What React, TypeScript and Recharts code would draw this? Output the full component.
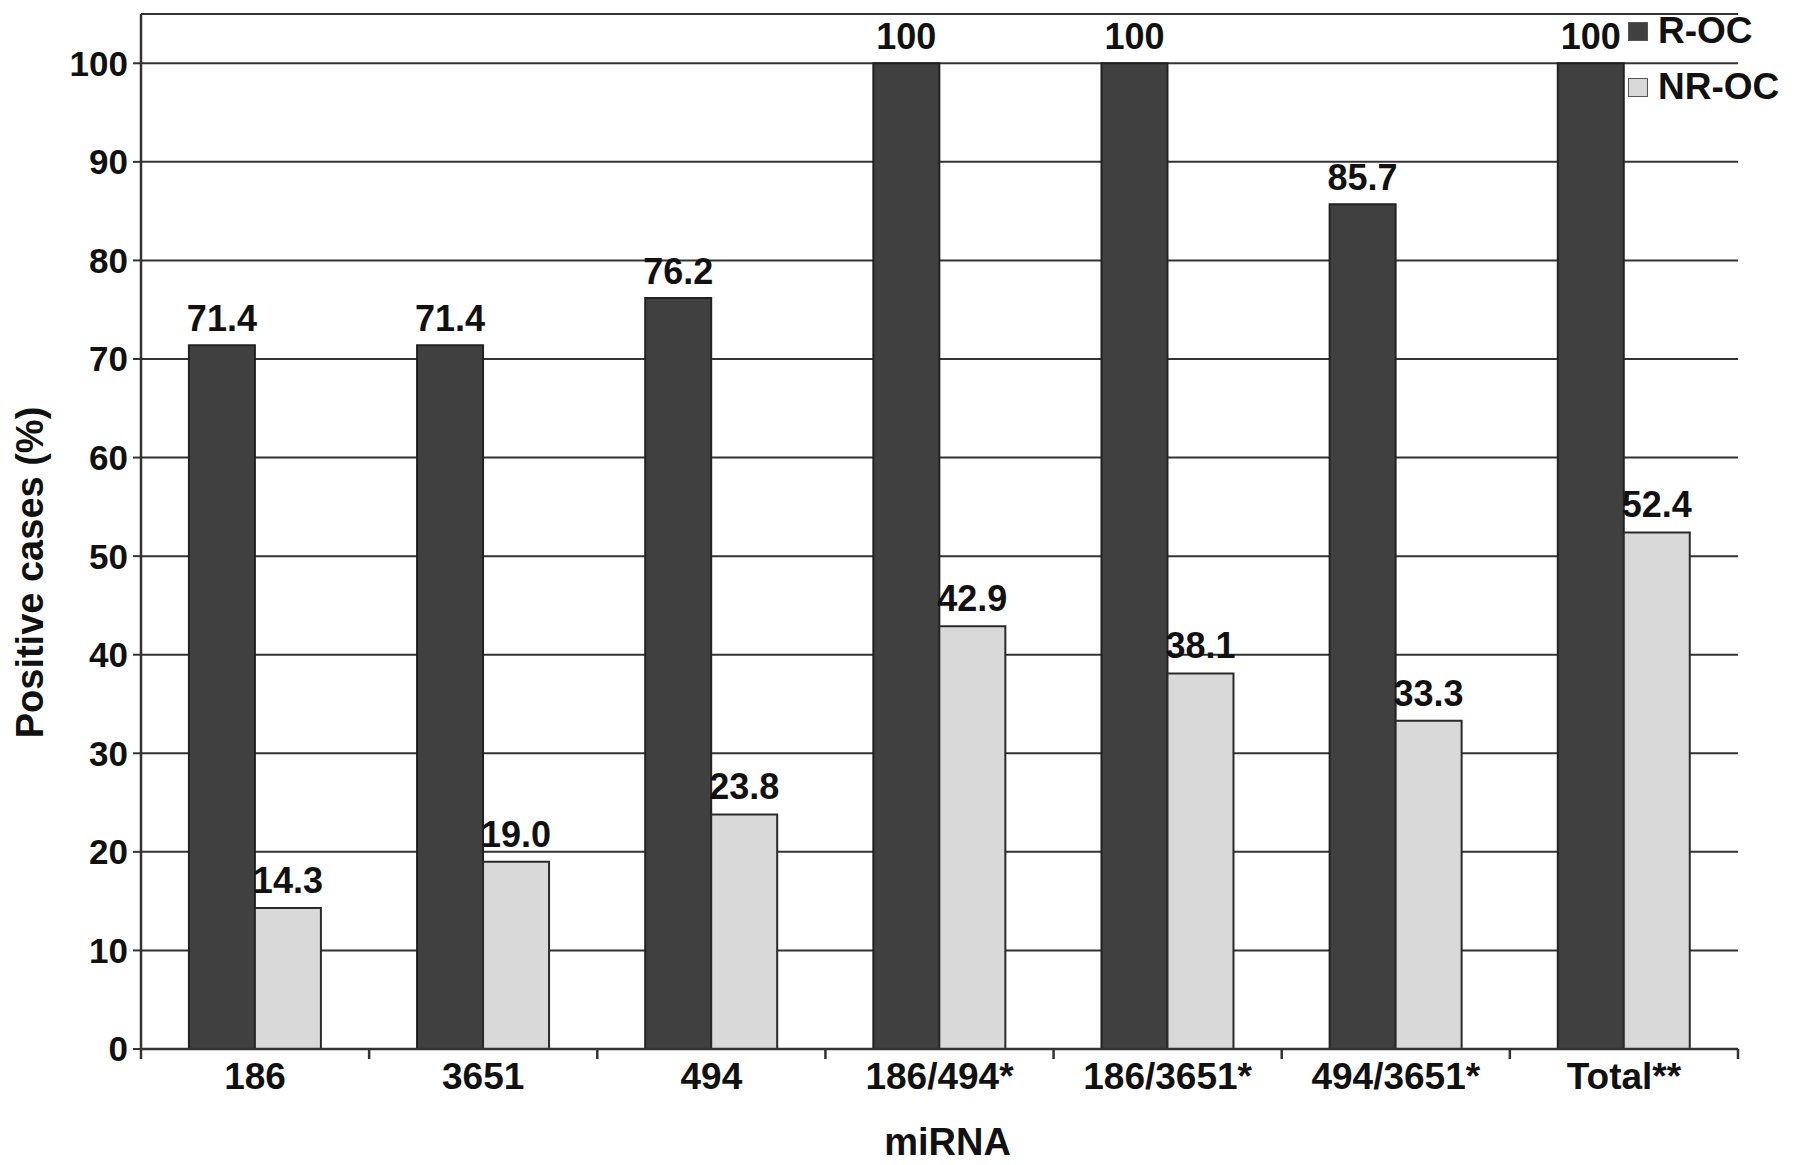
import { BarChart, Bar, XAxis, YAxis, CartesianGrid, LabelList, Label } from 'recharts';

// ── values ─────────────────────────────────────────────────
const categories = ['186', '3651', '494', '186/494*', '186/3651*', '494/3651*', 'Total**'];
const rocValues = [71.4, 71.4, 76.2, 100, 100, 85.7, 100];
const nrocValues = [14.3, 19.0, 23.8, 42.9, 38.1, 33.3, 52.4];
const yTicks = [0, 10, 20, 30, 40, 50, 60, 70, 80, 90, 100];
const seriesNames = ['R-OC', 'NR-OC'];

const data = categories.map((name, i) => ({ name, roc: rocValues[i], nroc: nrocValues[i] }));

const W = 1795;
const H = 1165;
const YAXIS_W = 141;
const MARGIN = { top: 14, right: 57, left: 0, bottom: 0 };
const FONT = '"Liberation Sans", Arial, Helvetica, sans-serif';
const INK = '#111';
const LINE = '#333';
const DARK = '#404040';
const LIGHT = '#d9d9d9';

const fmt = (v: number) => (v === 100 ? '100' : v.toFixed(1));

function CategoryTick(props: any) {
  const { x, y, payload, index, visibleTicksCount } = props;
  const count = visibleTicksCount || categories.length;
  const axisW = props.width || W - YAXIS_W - MARGIN.right;
  const band = axisW / count;
  const left = x - band / 2;
  return (
    <g>
      <line x1={left} x2={left} y1={y} y2={y + 10} stroke={LINE} strokeWidth={2.5} />
      {index === count - 1 && (
        <line x1={x + band / 2} x2={x + band / 2} y1={y} y2={y + 10} stroke={LINE} strokeWidth={2.5} />
      )}
      <text
        x={x}
        y={y + 40}
        textAnchor="middle"
        fill={INK}
        style={{ fontFamily: FONT, fontSize: 37, fontWeight: 700 }}
      >
        {payload.value}
      </text>
    </g>
  );
}

function YTitle(props: any) {
  const vb = props.viewBox || { x: 0, y: 0, width: YAXIS_W, height: 1035 };
  const cx = vb.x + 30;
  const cy = vb.y + vb.height / 2 + 41;
  return (
    <text
      x={cx}
      y={cy}
      transform={`rotate(-90 ${cx} ${cy})`}
      textAnchor="middle"
      dominantBaseline="central"
      fill={INK}
      style={{ fontFamily: FONT, fontSize: 38, fontWeight: 700 }}
    >
      Positive cases (%)
    </text>
  );
}

export default function App() {
  const swatches = [DARK, LIGHT];
  return (
    <div style={{ position: 'absolute', left: 0, top: 0, width: W, height: H, background: '#fff' }}>
      <BarChart
        width={W}
        height={H}
        data={data}
        margin={MARGIN}
        barCategoryGap="21%"
        barGap={0}
        style={{ fontFamily: FONT }}
      >
        <CartesianGrid horizontal vertical={false} stroke={LINE} strokeWidth={2} />
        <XAxis
          dataKey="name"
          height={116}
          interval={0}
          tickSize={0}
          tickMargin={0}
          tickLine={false}
          axisLine={{ stroke: LINE, strokeWidth: 2.5 }}
          tick={<CategoryTick />}
        >
          <Label
            value="miRNA"
            position="insideBottom"
            offset={10}
            dx={8}
            fill={INK}
            style={{ fontFamily: FONT, fontSize: 38, fontWeight: 700 }}
          />
        </XAxis>
        <YAxis
          width={YAXIS_W}
          domain={[0, 105]}
          ticks={yTicks}
          interval={0}
          tickSize={8}
          tickMargin={5}
          axisLine={{ stroke: LINE, strokeWidth: 2.5 }}
          tickLine={{ stroke: LINE, strokeWidth: 2 }}
          tick={{ fill: INK, fontSize: 35, fontWeight: 700, fontFamily: FONT }}
          label={<YTitle />}
        />
        <Bar dataKey="roc" name={seriesNames[0]} fill={DARK} stroke="#222" strokeWidth={2} isAnimationActive={false}>
          <LabelList
            dataKey="roc"
            position="top"
            offset={14}
            formatter={(v: any) => fmt(Number(v))}
            fill={INK}
            style={{ fontFamily: FONT, fontSize: 36, fontWeight: 700 }}
          />
        </Bar>
        <Bar dataKey="nroc" name={seriesNames[1]} fill={LIGHT} stroke="#2a2a2a" strokeWidth={2} isAnimationActive={false}>
          <LabelList
            dataKey="nroc"
            position="top"
            offset={15}
            formatter={(v: any) => fmt(Number(v))}
            fill={INK}
            style={{ fontFamily: FONT, fontSize: 36, fontWeight: 700 }}
          />
        </Bar>
      </BarChart>
      {/* legend, top right */}
      <div style={{ position: 'absolute', left: 1628, top: 11, fontFamily: FONT, fontWeight: 700, fontSize: 37, color: INK }}>
        {seriesNames.map((n, i) => (
          <div key={n} style={{ display: 'flex', alignItems: 'center', height: 40, marginBottom: i === 0 ? 16 : 0 }}>
            <span
              style={{
                width: 18,
                height: 17,
                background: swatches[i],
                border: '1.5px solid #555',
                marginRight: 10,
                flexShrink: 0,
              }}
            />
            <span style={{ lineHeight: '40px' }}>{n}</span>
          </div>
        ))}
      </div>
    </div>
  );
}
